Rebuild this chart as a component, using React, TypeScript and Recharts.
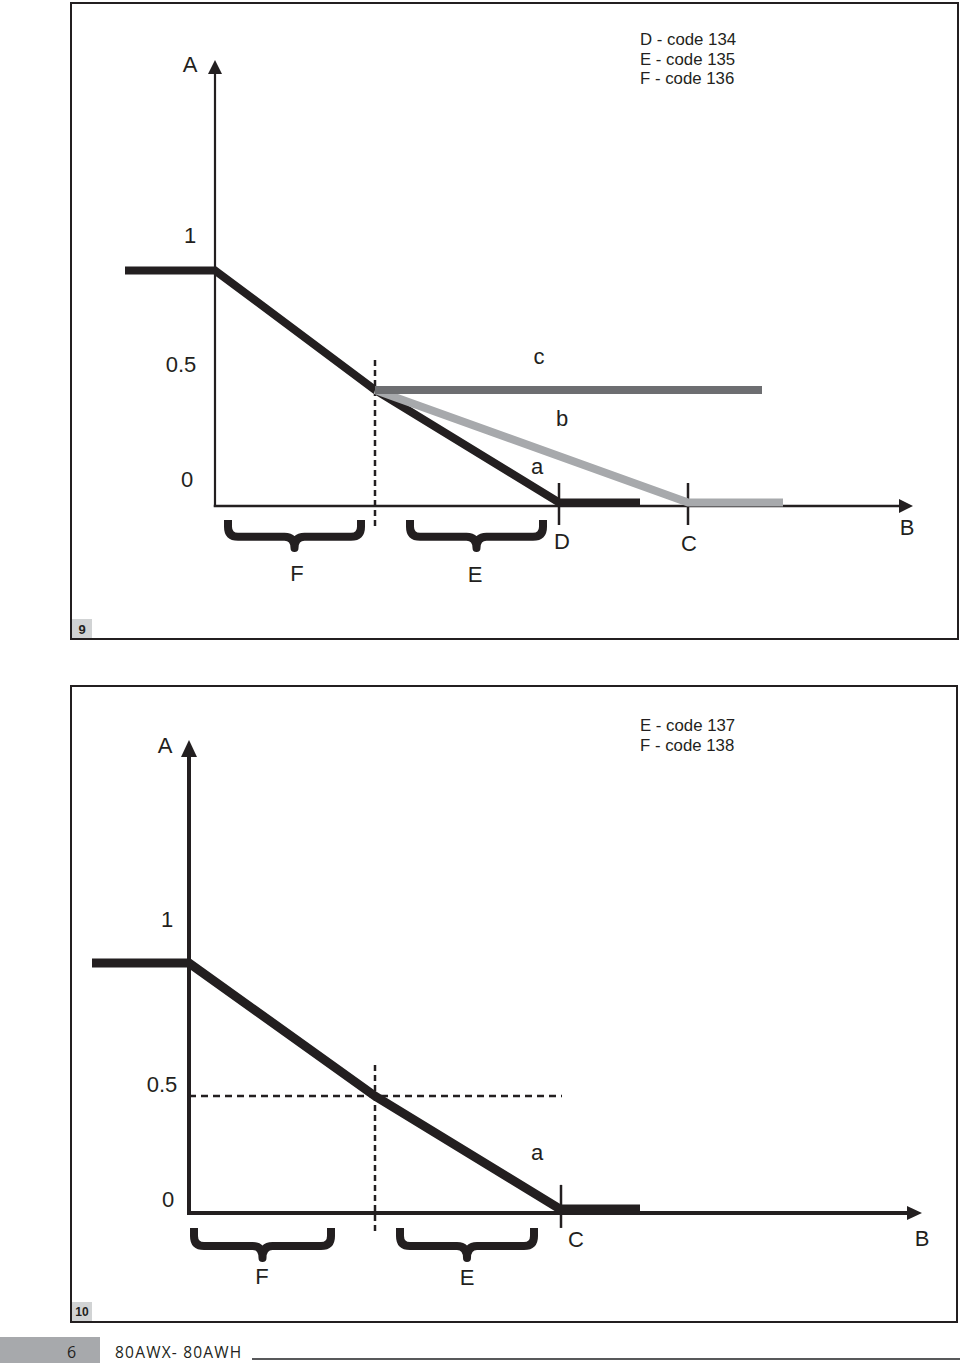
import { LineChart, Line, XAxis, YAxis, ReferenceLine, ReferenceArea, ReferenceDot } from 'recharts';

// ── Figure 9 data (x: distance along B, y: value of A) ────────────────────────

const fig9LineA = [
  { x: -9, y: 1 },
  { x: 0, y: 1 },
  { x: 16, y: 0.485 },
  { x: 34.4, y: 0 },
  { x: 42.5, y: 0 },
];
const fig9LineB = [
  { x: 16, y: 0.485 },
  { x: 47.3, y: 0 },
  { x: 56.8, y: 0 },
];
const fig9LineC = [
  { x: 16, y: 0.485 },
  { x: 54.7, y: 0.485 },
];
const fig9Split = 16;
const fig9Ticks = [34.4, 47.3];
const fig9Braces = [
  [1.3, 14.6],
  [19.5, 32.8],
];
const fig9Legend = ['D - code 134', 'E - code 135', 'F - code 136'];
const fig9Labels = [
  { text: 'A', x: -2.5, y: 1.886 },
  { text: '1', x: -2.5, y: 1.149 },
  { text: '0.5', x: -3.4, y: 0.593 },
  { text: '0', x: -2.8, y: 0.097 },
  { text: 'c', x: 32.4, y: 0.631 },
  { text: 'b', x: 34.7, y: 0.364 },
  { text: 'a', x: 32.2, y: 0.157 },
  { text: 'D', x: 34.7, y: -0.166 },
  { text: 'C', x: 47.4, y: -0.175 },
  { text: 'B', x: 69.2, y: -0.106 },
  { text: 'F', x: 8.2, y: -0.308 },
  { text: 'E', x: 26, y: -0.312 },
];

// ── Figure 10 data ────────────────────────────────────────────────────────────

const fig10LineA = [
  { x: -9.7, y: 1 },
  { x: 0, y: 1 },
  { x: 18.6, y: 0.459 },
  { x: 37.1, y: 0 },
  { x: 45.1, y: 0 },
];
const fig10Split = 18.6;
const fig10Half = 0.459;
const fig10Ticks = [37.2];
const fig10Braces = [
  [0.5, 14.2],
  [21.1, 34.5],
];
const fig10Legend = ['E - code 137', 'F - code 138'];
const fig10Labels = [
  { text: 'A', x: -2.4, y: 1.886 },
  { text: '1', x: -2.2, y: 1.175 },
  { text: '0.5', x: -2.7, y: 0.508 },
  { text: '0', x: -2.1, y: 0.037 },
  { text: 'a', x: 34.8, y: 0.228 },
  { text: 'C', x: 38.7, y: -0.126 },
  { text: 'B', x: 73.3, y: -0.118 },
  { text: 'F', x: 7.3, y: -0.276 },
  { text: 'E', x: 27.8, y: -0.28 },
];

// ── Styling ───────────────────────────────────────────────────────────────────

const INK = '#231f20';
const DARK_GREY = '#6d6e71';
const LIGHT_GREY = '#a7a9ac';
const FONT = '"Liberation Sans", Arial, Helvetica, sans-serif';

// ── Custom shapes ─────────────────────────────────────────────────────────────

const arrowLine = (w: number, len: number, half: number) => (p: any) => {
  const { x1, y1, x2, y2 } = p;
  const dx = x2 - x1;
  const dy = y2 - y1;
  const L = Math.hypot(dx, dy) || 1;
  const ux = dx / L;
  const uy = dy / L;
  const bx = x2 - ux * len;
  const by = y2 - uy * len;
  const px = -uy * half;
  const py = ux * half;
  return (
    <g>
      <line x1={x1} y1={y1} x2={bx} y2={by} stroke={INK} strokeWidth={w} strokeLinecap="square" />
      <polygon points={`${x2},${y2} ${bx + px},${by + py} ${bx - px},${by - py}`} fill={INK} />
    </g>
  );
};

const braceShape = (p: any) => {
  const { x, y, width, height } = p;
  const x1 = x;
  const x2 = x + width;
  const mid = x + width / 2;
  const ym = y + height * 0.6;
  const yt = y + height;
  const r = 10;
  const d =
    `M${x1},${y} L${x1},${ym - r} Q${x1},${ym} ${x1 + r},${ym} L${mid - r},${ym} ` +
    `Q${mid},${ym} ${mid},${yt} Q${mid},${ym} ${mid + r},${ym} ` +
    `L${x2 - r},${ym} Q${x2},${ym} ${x2},${ym - r} L${x2},${y}`;
  return <path d={d} fill="none" stroke={INK} strokeWidth={8} strokeLinejoin="round" />;
};

const textShape = (text: string) => (p: any) => (
  <text
    x={p.cx}
    y={p.cy}
    textAnchor="middle"
    dominantBaseline="central"
    fontSize={22}
    fontFamily={FONT}
    fill={INK}
  >
    {text}
  </text>
);

// ── Legend block ──────────────────────────────────────────────────────────────

function LegendBlock({ lines, top }: { lines: string[]; top: number }) {
  return (
    <div
      style={{
        position: 'absolute',
        left: 640,
        top,
        fontFamily: FONT,
        fontSize: 16.8,
        lineHeight: '19.5px',
        color: INK,
      }}
    >
      {lines.map((l) => (
        <div key={l}>{l}</div>
      ))}
    </div>
  );
}

function Frame({ left, top, width, height, num }: { left: number; top: number; width: number; height: number; num: string }) {
  return (
    <div
      style={{
        position: 'absolute',
        left,
        top,
        width,
        height,
        boxSizing: 'border-box',
        border: `2px solid ${INK}`,
      }}
    >
      <div
        style={{
          position: 'absolute',
          left: 0,
          bottom: 0,
          width: 20,
          height: 19,
          background: '#d1d3d4',
          fontFamily: FONT,
          fontWeight: 'bold',
          fontSize: num.length > 1 ? 12 : 13,
          lineHeight: '21px',
          textAlign: 'center',
          color: INK,
        }}
      >
        {num}
      </div>
    </div>
  );
}

const lineProps = { type: 'linear' as const, dot: false, activeDot: false, isAnimationActive: false, dataKey: 'y' };

// ── Component ─────────────────────────────────────────────────────────────────

export default function App() {
  return (
    <div
      style={{
        position: 'absolute',
        left: 0,
        top: 0,
        width: 960,
        height: 1365,
        background: '#fff',
        overflow: 'hidden',
      }}
    >
      <Frame left={70} top={2} width={889} height={638} num="9" />
      <Frame left={70} top={685} width={888} height={638} num="10" />

      {/* Figure 9 */}
      <LineChart
        width={960}
        height={640}
        margin={{ top: 0, right: 0, bottom: 0, left: 0 }}
        style={{ position: 'absolute', left: 0, top: 0 }}
      >
        <XAxis type="number" dataKey="x" domain={[-21.5, 74.5]} allowDataOverflow hide />
        <YAxis type="number" dataKey="y" domain={[-0.5927, 2.1659]} allowDataOverflow hide />

        {fig9Braces.map(([a, b]) => (
          <ReferenceArea key={a} x1={a} x2={b} y1={-0.075} y2={-0.196} shape={braceShape} />
        ))}

        <ReferenceLine
          segment={[{ x: fig9Split, y: 0.614 }, { x: fig9Split, y: -0.106 }]}
          stroke={INK}
          strokeWidth={2.5}
          strokeDasharray="6 4"
        />
        {fig9Ticks.map((t) => (
          <ReferenceLine
            key={t}
            segment={[{ x: t, y: 0.084 }, { x: t, y: -0.097 }]}
            stroke={INK}
            strokeWidth={2.5}
          />
        ))}
        <ReferenceLine segment={[{ x: 0, y: -0.015 }, { x: 0, y: 1.907 }]} shape={arrowLine(2.2, 14, 7)} />
        <ReferenceLine segment={[{ x: 0, y: -0.015 }, { x: 69.8, y: -0.015 }]} shape={arrowLine(2.5, 14, 7)} />

        <Line {...lineProps} data={fig9LineA} stroke={INK} strokeWidth={8} />
        <Line {...lineProps} data={fig9LineB} stroke={LIGHT_GREY} strokeWidth={8} />
        <Line {...lineProps} data={fig9LineC} stroke={DARK_GREY} strokeWidth={8} />

        {fig9Labels.map((l) => (
          <ReferenceDot key={l.text + l.x} x={l.x} y={l.y} r={0} shape={textShape(l.text)} />
        ))}
      </LineChart>
      <LegendBlock lines={fig9Legend} top={30} />

      {/* Figure 10 */}
      <LineChart
        width={960}
        height={650}
        margin={{ top: 0, right: 0, bottom: 0, left: 0 }}
        style={{ position: 'absolute', left: 0, top: 680 }}
      >
        <XAxis type="number" dataKey="x" domain={[-18.9, 77.1]} allowDataOverflow hide />
        <YAxis type="number" dataKey="y" domain={[-0.4919, 2.1504]} allowDataOverflow hide />

        {fig10Braces.map(([a, b]) => (
          <ReferenceArea key={a} x1={a} x2={b} y1={-0.077} y2={-0.199} shape={braceShape} />
        ))}

        <ReferenceLine
          segment={[{ x: fig10Split, y: 0.585 }, { x: fig10Split, y: -0.098 }]}
          stroke={INK}
          strokeWidth={2.5}
          strokeDasharray="6 4"
        />
        <ReferenceLine
          segment={[{ x: 0, y: fig10Half }, { x: 37.3, y: fig10Half }]}
          stroke={INK}
          strokeWidth={2.5}
          strokeDasharray="7 5"
        />
        {fig10Ticks.map((t) => (
          <ReferenceLine
            key={t}
            segment={[{ x: t, y: 0.098 }, { x: t, y: -0.077 }]}
            stroke={INK}
            strokeWidth={2.5}
          />
        ))}
        <ReferenceLine segment={[{ x: 0, y: -0.016 }, { x: 0, y: 1.907 }]} shape={arrowLine(4, 17, 8)} />
        <ReferenceLine segment={[{ x: 0, y: -0.016 }, { x: 73.3, y: -0.016 }]} shape={arrowLine(4, 15, 7)} />

        <Line {...lineProps} data={fig10LineA} stroke={INK} strokeWidth={9} />

        {fig10Labels.map((l) => (
          <ReferenceDot key={l.text + l.x} x={l.x} y={l.y} r={0} shape={textShape(l.text)} />
        ))}
      </LineChart>
      <LegendBlock lines={fig10Legend} top={716} />

      {/* Page footer */}
      <div
        style={{
          position: 'absolute',
          left: 0,
          top: 1337,
          width: 100,
          height: 26,
          background: '#a7a9ac',
        }}
      />
      <div
        style={{
          position: 'absolute',
          left: 67,
          top: 1341,
          fontFamily: '"Open Sans", sans-serif',
          fontSize: 16,
          color: INK,
        }}
      >
        6
      </div>
      <div
        style={{
          position: 'absolute',
          left: 115,
          top: 1341,
          fontFamily: '"Open Sans", sans-serif',
          fontSize: 15.5,
          letterSpacing: 1.2,
          color: INK,
        }}
      >
        80AWX- 80AWH
      </div>
      <div
        style={{
          position: 'absolute',
          left: 252,
          top: 1358,
          width: 708,
          height: 2,
          background: '#58595b',
        }}
      />
    </div>
  );
}
